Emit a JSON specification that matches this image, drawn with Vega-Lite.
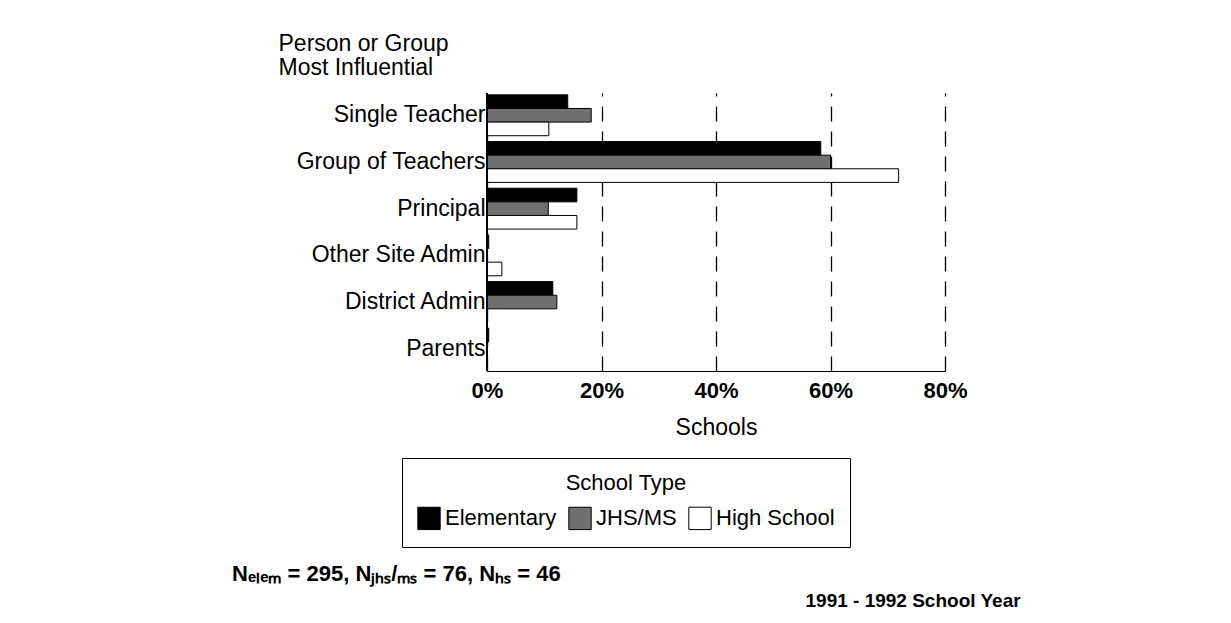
{
  "$schema": "https://vega.github.io/schema/vega-lite/v6.json",
  "autosize": "none",
  "width": 458,
  "height": 278,
  "padding": {"left": 487, "top": 93, "right": 286, "bottom": 252},
  "background": "white",
  "config": {
    "font": "Liberation Sans",
    "view": {"stroke": null},
    "axis": {"labelColor": "black", "titleColor": "black", "labelFont": "Liberation Sans", "titleFont": "Liberation Sans"},
    "legend": {"labelFont": "Liberation Sans", "titleFont": "Liberation Sans"},
    "title": {"font": "Liberation Sans"}
  },
  "title": {
    "text": "Nₑₗₑₘ = 295, Nⱼₕₛ/ₘₛ = 76, Nₕₛ = 46",
    "orient": "bottom",
    "anchor": "start",
    "frame": "group",
    "dx": -255,
    "offset": -46,
    "fontSize": 22,
    "fontWeight": "bold",
    "color": "black"
  },
  "data": {
    "values": [
      {"who": "Single Teacher", "type": "Elementary", "pct": 14.1},
      {"who": "Single Teacher", "type": "JHS/MS", "pct": 18.2},
      {"who": "Single Teacher", "type": "High School", "pct": 10.8},
      {"who": "Group of Teachers", "type": "Elementary", "pct": 58.3},
      {"who": "Group of Teachers", "type": "JHS/MS", "pct": 60.0},
      {"who": "Group of Teachers", "type": "High School", "pct": 71.9},
      {"who": "Principal", "type": "Elementary", "pct": 15.7},
      {"who": "Principal", "type": "JHS/MS", "pct": 10.7},
      {"who": "Principal", "type": "High School", "pct": 15.7},
      {"who": "Other Site Admin", "type": "Elementary", "pct": 0.3},
      {"who": "Other Site Admin", "type": "JHS/MS", "pct": 0},
      {"who": "Other Site Admin", "type": "High School", "pct": 2.6},
      {"who": "District Admin", "type": "Elementary", "pct": 11.5},
      {"who": "District Admin", "type": "JHS/MS", "pct": 12.2},
      {"who": "District Admin", "type": "High School", "pct": 0},
      {"who": "Parents", "type": "Elementary", "pct": 0.3},
      {"who": "Parents", "type": "JHS/MS", "pct": 0},
      {"who": "Parents", "type": "High School", "pct": 0}
    ]
  },
  "layer": [
    {
      "mark": {"type": "bar", "stroke": "black", "strokeWidth": 1},
      "encoding": {
        "y": {
          "field": "who", "type": "nominal",
          "sort": ["Single Teacher", "Group of Teachers", "Principal", "Other Site Admin", "District Admin", "Parents"],
          "scale": {"paddingInner": 0.125, "paddingOuter": 0.04},
          "axis": {
            "ticks": false, "domain": false, "labelFontSize": 23, "labelPadding": 2, "labelLimit": 400,
            "title": ["Person or Group", "Most Influential"],
            "titleAngle": 0, "titleAlign": "left", "titleBaseline": "alphabetic",
            "titleX": -209, "titleY": -43, "titleFontSize": 23, "titleFontWeight": "normal", "titleLineHeight": 24
          }
        },
        "yOffset": {
          "field": "type", "type": "nominal",
          "sort": ["Elementary", "JHS/MS", "High School"],
          "scale": {"paddingInner": 0, "paddingOuter": 0}
        },
        "x": {
          "field": "pct", "type": "quantitative",
          "scale": {"domain": [0, 80], "nice": false},
          "axis": {
            "values": [0, 20, 40, 60, 80],
            "labelExpr": "datum.value + '%'",
            "labelFontSize": 22, "labelFontWeight": "bold", "labelPadding": 9, "labelFlush": false,
            "ticks": false, "domain": true, "domainColor": "black", "domainWidth": 1,
            "grid": true, "gridDash": [15, 10], "gridColor": "black", "gridWidth": 1.3, "gridOpacity": 1,
            "title": "Schools", "titleFontSize": 23, "titleFontWeight": "normal", "titlePadding": 15
          }
        },
        "fill": {
          "field": "type", "type": "nominal",
          "sort": ["Elementary", "JHS/MS", "High School"],
          "scale": {"domain": ["Elementary", "JHS/MS", "High School"], "range": ["#000000", "#707070", "#ffffff"]},
          "legend": {
            "title": "School Type",
            "orient": "none", "legendX": -85, "legendY": 365,
            "direction": "horizontal",
            "strokeColor": "black", "padding": 15,
            "titleFontSize": 22, "titleFontWeight": "normal", "titleColor": "black",
            "titleAnchor": "middle", "titleAlign": "center", "titlePadding": 11,
            "labelFontSize": 22, "labelColor": "black", "labelOffset": 4,
            "symbolType": "square", "symbolSize": 500, "symbolStrokeColor": "black", "symbolStrokeWidth": 1,
            "columnPadding": 9
          }
        }
      }
    },
    {
      "mark": {"type": "rule", "color": "black", "strokeWidth": 1.8},
      "encoding": {
        "x": {
          "datum": 0, "type": "quantitative",
          "axis": {
            "orient": "top", "labels": false, "ticks": false, "domain": false, "grid": false,
            "title": "1991 - 1992 School Year",
            "titleAngle": 0, "titleAlign": "left", "titleBaseline": "middle",
            "titleX": 318, "titleY": 507, "titleFontSize": 19, "titleFontWeight": "bold"
          }
        }
      }
    }
  ],
  "resolve": {"axis": {"x": "independent"}}
}
